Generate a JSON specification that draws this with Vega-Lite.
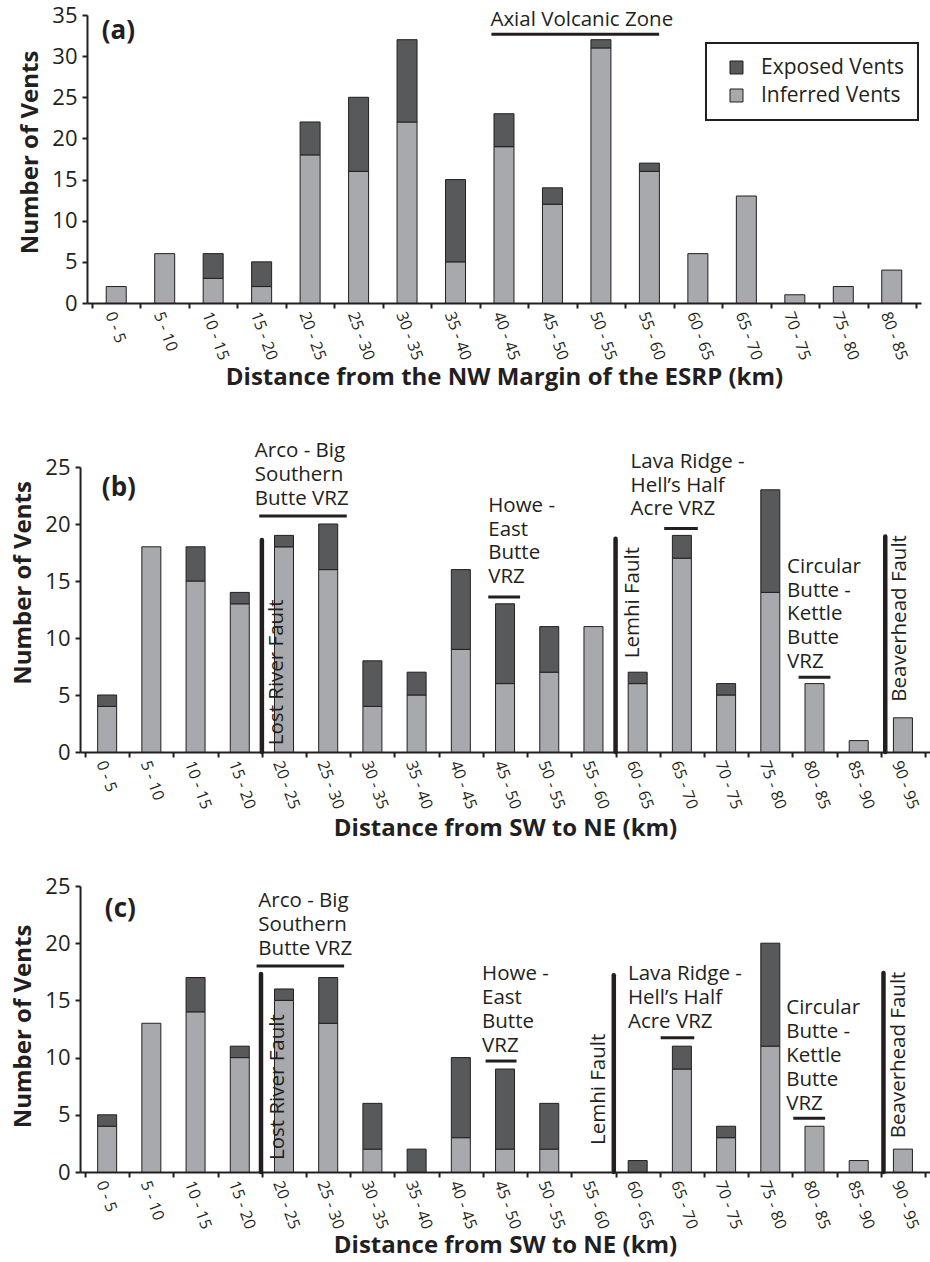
{
  "$schema": "https://vega.github.io/schema/vega-lite/v6.json",
  "padding": {"left": 11, "top": 4, "right": 0, "bottom": 0},
  "center": true,
  "spacing": 52,
  "resolve": {"scale": {"color": "independent"}, "legend": {"color": "independent"}},
  "datasets": {
    "barsA": [
      {"bin": "0 - 5", "x": 2.5, "type": "Inferred Vents", "y": 2},
      {"bin": "5 - 10", "x": 7.5, "type": "Inferred Vents", "y": 6},
      {"bin": "10 - 15", "x": 12.5, "type": "Inferred Vents", "y": 3},
      {"bin": "10 - 15", "x": 12.5, "type": "Exposed Vents", "y": 3},
      {"bin": "15 - 20", "x": 17.5, "type": "Inferred Vents", "y": 2},
      {"bin": "15 - 20", "x": 17.5, "type": "Exposed Vents", "y": 3},
      {"bin": "20 - 25", "x": 22.5, "type": "Inferred Vents", "y": 18},
      {"bin": "20 - 25", "x": 22.5, "type": "Exposed Vents", "y": 4},
      {"bin": "25 - 30", "x": 27.5, "type": "Inferred Vents", "y": 16},
      {"bin": "25 - 30", "x": 27.5, "type": "Exposed Vents", "y": 9},
      {"bin": "30 - 35", "x": 32.5, "type": "Inferred Vents", "y": 22},
      {"bin": "30 - 35", "x": 32.5, "type": "Exposed Vents", "y": 10},
      {"bin": "35 - 40", "x": 37.5, "type": "Inferred Vents", "y": 5},
      {"bin": "35 - 40", "x": 37.5, "type": "Exposed Vents", "y": 10},
      {"bin": "40 - 45", "x": 42.5, "type": "Inferred Vents", "y": 19},
      {"bin": "40 - 45", "x": 42.5, "type": "Exposed Vents", "y": 4},
      {"bin": "45 - 50", "x": 47.5, "type": "Inferred Vents", "y": 12},
      {"bin": "45 - 50", "x": 47.5, "type": "Exposed Vents", "y": 2},
      {"bin": "50 - 55", "x": 52.5, "type": "Inferred Vents", "y": 31},
      {"bin": "50 - 55", "x": 52.5, "type": "Exposed Vents", "y": 1},
      {"bin": "55 - 60", "x": 57.5, "type": "Inferred Vents", "y": 16},
      {"bin": "55 - 60", "x": 57.5, "type": "Exposed Vents", "y": 1},
      {"bin": "60 - 65", "x": 62.5, "type": "Inferred Vents", "y": 6},
      {"bin": "65 - 70", "x": 67.5, "type": "Inferred Vents", "y": 13},
      {"bin": "70 - 75", "x": 72.5, "type": "Inferred Vents", "y": 1},
      {"bin": "75 - 80", "x": 77.5, "type": "Inferred Vents", "y": 2},
      {"bin": "80 - 85", "x": 82.5, "type": "Inferred Vents", "y": 4}
    ],
    "barsB": [
      {"bin": "0 - 5", "x": 2.5, "type": "Inferred Vents", "y": 4},
      {"bin": "0 - 5", "x": 2.5, "type": "Exposed Vents", "y": 1},
      {"bin": "5 - 10", "x": 7.5, "type": "Inferred Vents", "y": 18},
      {"bin": "10 - 15", "x": 12.5, "type": "Inferred Vents", "y": 15},
      {"bin": "10 - 15", "x": 12.5, "type": "Exposed Vents", "y": 3},
      {"bin": "15 - 20", "x": 17.5, "type": "Inferred Vents", "y": 13},
      {"bin": "15 - 20", "x": 17.5, "type": "Exposed Vents", "y": 1},
      {"bin": "20 - 25", "x": 22.5, "type": "Inferred Vents", "y": 18},
      {"bin": "20 - 25", "x": 22.5, "type": "Exposed Vents", "y": 1},
      {"bin": "25 - 30", "x": 27.5, "type": "Inferred Vents", "y": 16},
      {"bin": "25 - 30", "x": 27.5, "type": "Exposed Vents", "y": 4},
      {"bin": "30 - 35", "x": 32.5, "type": "Inferred Vents", "y": 4},
      {"bin": "30 - 35", "x": 32.5, "type": "Exposed Vents", "y": 4},
      {"bin": "35 - 40", "x": 37.5, "type": "Inferred Vents", "y": 5},
      {"bin": "35 - 40", "x": 37.5, "type": "Exposed Vents", "y": 2},
      {"bin": "40 - 45", "x": 42.5, "type": "Inferred Vents", "y": 9},
      {"bin": "40 - 45", "x": 42.5, "type": "Exposed Vents", "y": 7},
      {"bin": "45 - 50", "x": 47.5, "type": "Inferred Vents", "y": 6},
      {"bin": "45 - 50", "x": 47.5, "type": "Exposed Vents", "y": 7},
      {"bin": "50 - 55", "x": 52.5, "type": "Inferred Vents", "y": 7},
      {"bin": "50 - 55", "x": 52.5, "type": "Exposed Vents", "y": 4},
      {"bin": "55 - 60", "x": 57.5, "type": "Inferred Vents", "y": 11},
      {"bin": "60 - 65", "x": 62.5, "type": "Inferred Vents", "y": 6},
      {"bin": "60 - 65", "x": 62.5, "type": "Exposed Vents", "y": 1},
      {"bin": "65 - 70", "x": 67.5, "type": "Inferred Vents", "y": 17},
      {"bin": "65 - 70", "x": 67.5, "type": "Exposed Vents", "y": 2},
      {"bin": "70 - 75", "x": 72.5, "type": "Inferred Vents", "y": 5},
      {"bin": "70 - 75", "x": 72.5, "type": "Exposed Vents", "y": 1},
      {"bin": "75 - 80", "x": 77.5, "type": "Inferred Vents", "y": 14},
      {"bin": "75 - 80", "x": 77.5, "type": "Exposed Vents", "y": 9},
      {"bin": "80 - 85", "x": 82.5, "type": "Inferred Vents", "y": 6},
      {"bin": "85 - 90", "x": 87.5, "type": "Inferred Vents", "y": 1},
      {"bin": "90 - 95", "x": 92.5, "type": "Inferred Vents", "y": 3}
    ],
    "barsC": [
      {"bin": "0 - 5", "x": 2.5, "type": "Inferred Vents", "y": 4},
      {"bin": "0 - 5", "x": 2.5, "type": "Exposed Vents", "y": 1},
      {"bin": "5 - 10", "x": 7.5, "type": "Inferred Vents", "y": 13},
      {"bin": "10 - 15", "x": 12.5, "type": "Inferred Vents", "y": 14},
      {"bin": "10 - 15", "x": 12.5, "type": "Exposed Vents", "y": 3},
      {"bin": "15 - 20", "x": 17.5, "type": "Inferred Vents", "y": 10},
      {"bin": "15 - 20", "x": 17.5, "type": "Exposed Vents", "y": 1},
      {"bin": "20 - 25", "x": 22.5, "type": "Inferred Vents", "y": 15},
      {"bin": "20 - 25", "x": 22.5, "type": "Exposed Vents", "y": 1},
      {"bin": "25 - 30", "x": 27.5, "type": "Inferred Vents", "y": 13},
      {"bin": "25 - 30", "x": 27.5, "type": "Exposed Vents", "y": 4},
      {"bin": "30 - 35", "x": 32.5, "type": "Inferred Vents", "y": 2},
      {"bin": "30 - 35", "x": 32.5, "type": "Exposed Vents", "y": 4},
      {"bin": "35 - 40", "x": 37.5, "type": "Exposed Vents", "y": 2},
      {"bin": "40 - 45", "x": 42.5, "type": "Inferred Vents", "y": 3},
      {"bin": "40 - 45", "x": 42.5, "type": "Exposed Vents", "y": 7},
      {"bin": "45 - 50", "x": 47.5, "type": "Inferred Vents", "y": 2},
      {"bin": "45 - 50", "x": 47.5, "type": "Exposed Vents", "y": 7},
      {"bin": "50 - 55", "x": 52.5, "type": "Inferred Vents", "y": 2},
      {"bin": "50 - 55", "x": 52.5, "type": "Exposed Vents", "y": 4},
      {"bin": "60 - 65", "x": 62.5, "type": "Exposed Vents", "y": 1},
      {"bin": "65 - 70", "x": 67.5, "type": "Inferred Vents", "y": 9},
      {"bin": "65 - 70", "x": 67.5, "type": "Exposed Vents", "y": 2},
      {"bin": "70 - 75", "x": 72.5, "type": "Inferred Vents", "y": 3},
      {"bin": "70 - 75", "x": 72.5, "type": "Exposed Vents", "y": 1},
      {"bin": "75 - 80", "x": 77.5, "type": "Inferred Vents", "y": 11},
      {"bin": "75 - 80", "x": 77.5, "type": "Exposed Vents", "y": 9},
      {"bin": "80 - 85", "x": 82.5, "type": "Inferred Vents", "y": 4},
      {"bin": "85 - 90", "x": 87.5, "type": "Inferred Vents", "y": 1},
      {"bin": "90 - 95", "x": 92.5, "type": "Inferred Vents", "y": 2}
    ],
    "zonesA": [{"x": 41.2, "x2": 58.5, "y": 32.65}],
    "zonesB": [
      {"x": 19.7, "x2": 29.6, "y": 20.7},
      {"x": 45.6, "x2": 49.2, "y": 13.6},
      {"x": 65.5, "x2": 69.3, "y": 19.6},
      {"x": 80.7, "x2": 84.3, "y": 6.55}
    ],
    "zonesC": [
      {"x": 19.4, "x2": 29.3, "y": 18.0},
      {"x": 45.3, "x2": 48.8, "y": 9.7},
      {"x": 65.1, "x2": 68.9, "y": 11.74},
      {"x": 80.1, "x2": 83.7, "y": 4.7}
    ],
    "zoneTextA": [{"label": "Axial Volcanic Zone", "x": 41.1, "y": 35.6}],
    "zoneTextB": [
      {"label": "Arco - Big\nSouthern\nButte VRZ", "x": 19.2, "y": 27.27},
      {"label": "Howe -\nEast\nButte\nVRZ", "x": 45.6, "y": 22.48},
      {"label": "Lava Ridge -\nHell’s Half\nAcre VRZ", "x": 61.7, "y": 26.34},
      {"label": "Circular\nButte -\nKettle\nButte\nVRZ", "x": 79.4, "y": 17.13}
    ],
    "zoneTextC": [
      {"label": "Arco - Big\nSouthern\nButte VRZ", "x": 19.6, "y": 24.55},
      {"label": "Howe -\nEast\nButte\nVRZ", "x": 44.9, "y": 18.15},
      {"label": "Lava Ridge -\nHell’s Half\nAcre VRZ", "x": 61.4, "y": 18.15},
      {"label": "Circular\nButte -\nKettle\nButte\nVRZ", "x": 79.3, "y": 15.17}
    ],
    "faultsB": [
      {"fault": "Lost River Fault", "x": 20.0, "top": 18.6, "labelX": 21.68, "labelY": 0.6},
      {"fault": "Lemhi Fault", "x": 60.0, "top": 18.7, "labelX": 61.92, "labelY": 8.22},
      {"fault": "Beaverhead Fault", "x": 90.5, "top": 18.9, "labelX": 92.15, "labelY": 4.41}
    ],
    "faultsC": [
      {"fault": "Lost River Fault", "x": 19.9, "top": 17.3, "labelX": 21.79, "labelY": 1.05},
      {"fault": "Lemhi Fault", "x": 59.8, "top": 17.2, "labelX": 58.09, "labelY": 2.36},
      {"fault": "Beaverhead Fault", "x": 90.3, "top": 17.4, "labelX": 92.06, "labelY": 2.95}
    ],
    "panelA": [{"label": "(a)", "x": 1.0, "y": 33.11}],
    "panelB": [{"label": "(b)", "x": 1.9, "y": 23.2}],
    "panelC": [{"label": "(c)", "x": 2.24, "y": 23.03}]
  },
  "vconcat": [
    {
      "width": 834,
      "height": 288,
      "layer": [
        {
          "data": {"name": "barsA"},
          "mark": {"type": "bar", "orient": "vertical", "width": 20, "stroke": "#231f20", "strokeWidth": 1},
          "encoding": {
            "x": {"field": "x", "type": "quantitative", "scale": {"domain": [0, 85], "nice": false, "zero": false},
              "axis": {"title": "Distance from the NW Margin of the ESRP (km)", "values": [0, 5, 10, 15, 20, 25, 30, 35, 40, 45, 50, 55, 60, 65, 70, 75, 80, 85],
                "labelExpr": "datum.value < 85 ? datum.value + ' - ' + (datum.value + 5) : ''",
                "labelAngle": 70, "labelAlign": "left", "labelBaseline": "middle", "labelOffset": 17.5, "labelFontSize": 16, "labelPadding": 4,
                "titleY": 74, "titleBaseline": "middle"}},
            "y": {"field": "y", "type": "quantitative", "stack": "zero", "scale": {"domain": [0, 35], "nice": false},
              "axis": {"title": "Number of Vents", "values": [0, 5, 10, 15, 20, 25, 30, 35], "labelFontSize": 22, "labelPadding": 5,
                "titleX": -56.6, "titleY": 137, "titleAngle": 270, "titleBaseline": "middle", "titleAlign": "center"}},
            "color": {"field": "type", "type": "nominal",
              "scale": {"domain": ["Exposed Vents", "Inferred Vents"], "range": ["#58595b", "#a7a9ac"]},
              "legend": {"title": null, "orient": "none", "legendX": 619, "legendY": 28, "direction": "vertical",
                "strokeColor": "#231f20", "padding": 14, "rowPadding": 6, "symbolType": "square", "symbolSize": 169,
                "symbolStrokeColor": "#231f20", "symbolStrokeWidth": 1, "symbolOffset": 6, "labelOffset": 14,
                "labelFont": "Open Sans", "labelFontSize": 21, "labelColor": "#231f20",
                "encode": {"legend": {"update": {"strokeWidth": {"value": 2}}}}}},
            "order": {"field": "type", "sort": "descending"}
          }
        },
        {
          "data": {"name": "zonesA"},
          "mark": {"type": "rule", "strokeWidth": 3, "color": "#231f20"},
          "encoding": {
            "x": {"field": "x", "type": "quantitative"},
            "x2": {"field": "x2"},
            "y": {"field": "y", "type": "quantitative"}
          }
        },
        {
          "data": {"name": "zoneTextA"},
          "mark": {"type": "text", "align": "left", "baseline": "top", "font": "Open Sans", "fontSize": 20.5, "lineHeight": 23.8, "lineBreak": "\n", "color": "#231f20"},
          "encoding": {
            "x": {"field": "x", "type": "quantitative"},
            "y": {"field": "y", "type": "quantitative"},
            "text": {"field": "label"}
          }
        },
        {
          "data": {"name": "panelA"},
          "mark": {"type": "text", "align": "left", "baseline": "middle", "font": "Open Sans", "fontSize": 26, "fontWeight": "bold", "color": "#231f20"},
          "encoding": {
            "x": {"field": "x", "type": "quantitative"},
            "y": {"field": "y", "type": "quantitative"},
            "text": {"field": "label"}
          }
        }
      ]
    },
    {
      "spacing": 35,
      "vconcat": [
        {
          "width": 850,
          "height": 285,
          "layer": [
            {
              "data": {"name": "barsB"},
              "mark": {"type": "bar", "orient": "vertical", "width": 19, "stroke": "#231f20", "strokeWidth": 1},
              "encoding": {
                "x": {"field": "x", "type": "quantitative", "scale": {"domain": [0, 95], "nice": false, "zero": false},
                  "axis": {"title": "Distance from SW to NE (km)", "values": [0, 5, 10, 15, 20, 25, 30, 35, 40, 45, 50, 55, 60, 65, 70, 75, 80, 85, 90, 95],
                    "labelExpr": "datum.value < 95 ? datum.value + ' - ' + (datum.value + 5) : ''",
                    "labelAngle": 70, "labelAlign": "left", "labelBaseline": "middle", "labelOffset": 15.4, "labelFontSize": 16, "labelPadding": 4,
                    "titleY": 76, "titleBaseline": "middle"}},
                "y": {"field": "y", "type": "quantitative", "stack": "zero", "scale": {"domain": [0, 25], "nice": false},
                  "axis": {"title": "Number of Vents", "values": [0, 5, 10, 15, 20, 25], "labelFontSize": 22, "labelPadding": 5,
                    "titleX": -56.6, "titleY": 115.5, "titleAngle": 270, "titleBaseline": "middle", "titleAlign": "center"}},
                "color": {"field": "type", "type": "nominal",
                  "scale": {"domain": ["Exposed Vents", "Inferred Vents"], "range": ["#58595b", "#a7a9ac"]}, "legend": null},
                "order": {"field": "type", "sort": "descending"}
              }
            },
            {
              "data": {"name": "faultsB"},
              "mark": {"type": "rule", "strokeWidth": 4.5, "color": "#231f20", "strokeCap": "round"},
              "encoding": {
                "x": {"field": "x", "type": "quantitative"},
                "y": {"field": "top", "type": "quantitative"},
                "y2": {"datum": 0}
              }
            },
            {
              "data": {"name": "zonesB"},
              "mark": {"type": "rule", "strokeWidth": 3, "color": "#231f20"},
              "encoding": {
                "x": {"field": "x", "type": "quantitative"},
                "x2": {"field": "x2"},
                "y": {"field": "y", "type": "quantitative"}
              }
            },
            {
              "data": {"name": "zoneTextB"},
              "mark": {"type": "text", "align": "left", "baseline": "top", "font": "Open Sans", "fontSize": 20.5, "lineHeight": 23.8, "lineBreak": "\n", "color": "#231f20"},
              "encoding": {
                "x": {"field": "x", "type": "quantitative"},
                "y": {"field": "y", "type": "quantitative"},
                "text": {"field": "label"}
              }
            },
            {
              "data": {"name": "faultsB"},
              "mark": {"type": "text", "align": "left", "baseline": "middle", "angle": 270, "font": "Open Sans", "fontSize": 20.5, "color": "#231f20"},
              "encoding": {
                "x": {"field": "labelX", "type": "quantitative"},
                "y": {"field": "labelY", "type": "quantitative"},
                "text": {"field": "fault"}
              }
            },
            {
              "data": {"name": "panelB"},
              "mark": {"type": "text", "align": "left", "baseline": "middle", "font": "Open Sans", "fontSize": 26, "fontWeight": "bold", "color": "#231f20"},
              "encoding": {
                "x": {"field": "x", "type": "quantitative"},
                "y": {"field": "y", "type": "quantitative"},
                "text": {"field": "label"}
              }
            }
          ]
        },
        {
          "width": 850,
          "height": 286,
          "layer": [
            {
              "data": {"name": "barsC"},
              "mark": {"type": "bar", "orient": "vertical", "width": 19, "stroke": "#231f20", "strokeWidth": 1},
              "encoding": {
                "x": {"field": "x", "type": "quantitative", "scale": {"domain": [0, 95], "nice": false, "zero": false},
                  "axis": {"title": "Distance from SW to NE (km)", "values": [0, 5, 10, 15, 20, 25, 30, 35, 40, 45, 50, 55, 60, 65, 70, 75, 80, 85, 90, 95],
                    "labelExpr": "datum.value < 95 ? datum.value + ' - ' + (datum.value + 5) : ''",
                    "labelAngle": 70, "labelAlign": "left", "labelBaseline": "middle", "labelOffset": 15.4, "labelFontSize": 16, "labelPadding": 4,
                    "titleY": 73.5, "titleBaseline": "middle"}},
                "y": {"field": "y", "type": "quantitative", "stack": "zero", "scale": {"domain": [0, 25], "nice": false},
                  "axis": {"title": "Number of Vents", "values": [0, 5, 10, 15, 20, 25], "labelFontSize": 22, "labelPadding": 5,
                    "titleX": -56.6, "titleY": 140, "titleAngle": 270, "titleBaseline": "middle", "titleAlign": "center"}},
                "color": {"field": "type", "type": "nominal",
                  "scale": {"domain": ["Exposed Vents", "Inferred Vents"], "range": ["#58595b", "#a7a9ac"]}, "legend": null},
                "order": {"field": "type", "sort": "descending"}
              }
            },
            {
              "data": {"name": "faultsC"},
              "mark": {"type": "rule", "strokeWidth": 4.5, "color": "#231f20", "strokeCap": "round"},
              "encoding": {
                "x": {"field": "x", "type": "quantitative"},
                "y": {"field": "top", "type": "quantitative"},
                "y2": {"datum": 0}
              }
            },
            {
              "data": {"name": "zonesC"},
              "mark": {"type": "rule", "strokeWidth": 3, "color": "#231f20"},
              "encoding": {
                "x": {"field": "x", "type": "quantitative"},
                "x2": {"field": "x2"},
                "y": {"field": "y", "type": "quantitative"}
              }
            },
            {
              "data": {"name": "zoneTextC"},
              "mark": {"type": "text", "align": "left", "baseline": "top", "font": "Open Sans", "fontSize": 20.5, "lineHeight": 23.8, "lineBreak": "\n", "color": "#231f20"},
              "encoding": {
                "x": {"field": "x", "type": "quantitative"},
                "y": {"field": "y", "type": "quantitative"},
                "text": {"field": "label"}
              }
            },
            {
              "data": {"name": "faultsC"},
              "mark": {"type": "text", "align": "left", "baseline": "middle", "angle": 270, "font": "Open Sans", "fontSize": 20.5, "color": "#231f20"},
              "encoding": {
                "x": {"field": "labelX", "type": "quantitative"},
                "y": {"field": "labelY", "type": "quantitative"},
                "text": {"field": "fault"}
              }
            },
            {
              "data": {"name": "panelC"},
              "mark": {"type": "text", "align": "left", "baseline": "middle", "font": "Open Sans", "fontSize": 26, "fontWeight": "bold", "color": "#231f20"},
              "encoding": {
                "x": {"field": "x", "type": "quantitative"},
                "y": {"field": "y", "type": "quantitative"},
                "text": {"field": "label"}
              }
            }
          ]
        }
      ]
    }
  ],
  "config": {
    "view": {"stroke": null},
    "font": "Open Sans",
    "axis": {
      "grid": false,
      "domainColor": "#231f20", "domainWidth": 2,
      "tickColor": "#231f20", "tickWidth": 2, "tickSize": 5,
      "labelColor": "#231f20", "labelFont": "Open Sans", "labelOverlap": false, "labelFlush": false, "labelBound": false,
      "titleColor": "#231f20", "titleFont": "Open Sans", "titleFontWeight": "bold", "titleFontSize": 24
    }
  }
}
